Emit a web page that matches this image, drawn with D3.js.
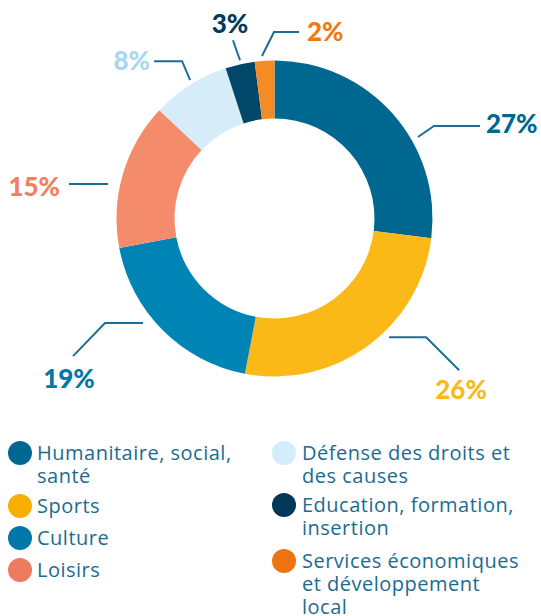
<!DOCTYPE html>
<html>
<head>
<meta charset="utf-8">
<script src="https://cdn.jsdelivr.net/npm/d3@7"></script>
<style>
  html, body { margin: 0; padding: 0; background: #fff; }
  svg { display: block; }
  .pct { font-family: Lato, "Open Sans", sans-serif; font-weight: 900; font-size: 26px; }
  .legend-text { font-family: "Open Sans", sans-serif; font-size: 20px; letter-spacing: 0.5px; fill: #1b6b90; }
  .leader { fill: none; stroke: #1c6e95; stroke-width: 2; }
</style>
</head>
<body>
<svg id="chart" width="541" height="616"></svg>
<script>
// ========= data =========
const categories = [
    "Humanitaire, social, santé",
    "Sports",
    "Culture",
    "Loisirs",
    "Défense des droits et des causes",
    "Education, formation, insertion",
    "Services économiques et développement local"
];
const values = [27, 26, 19, 15, 8, 3, 2];
const sliceColors = ["#006890", "#fbb917", "#0084b5", "#f48c6c", "#d6ecf9", "#00476a", "#f48b24"];
const labelColors = ["#006890", "#fbb917", "#0078aa", "#f08060", "#a8d8f0", "#003a5c", "#f07a10"];
const legendColors = ["#006890", "#f8ae00", "#0077a8", "#ee7a60", "#d4ecfb", "#00385a", "#ee7411"];

// legend lines (wrapped as in the original)
const legendLines = [
    ["Humanitaire, social,", "santé"],
    ["Sports"],
    ["Culture"],
    ["Loisirs"],
    ["Défense des droits et", "des causes"],
    ["Education, formation,", "insertion"],
    ["Services économiques", "et développement", "local"]
];

// ========= layout =========
const svg = d3.select("#chart");
const cx = 274.5, cy = 218.5;
const outerR = 158, innerR = 100;

const g = svg.append("g").attr("transform", `translate(${cx},${cy})`);

const pie = d3.pie().sort(null).value(d => d);
const arcs = pie(values);
const arc = d3.arc().innerRadius(innerR).outerRadius(outerR);

g.selectAll(".slice")
    .data(arcs)
    .join("path")
    .attr("class", "slice")
    .attr("d", arc)
    .attr("fill", (d, i) => sliceColors[i]);

// leader line placement: angle (deg, clockwise from top), start radius,
// elbow offset, horizontal run, and label anchor relative to line end
const leaders = [
    { a: 60.4, r: 165, elbow: [16, -11], run: 46, tx: 6, ty: -3, anchor: "start" },
    { a: 136, r: 165, elbow: [37, 0], run: 0, diag: [33, 33], tx: 2, ty: 19, anchor: "middle" },
    { a: 231.5, r: 168, elbow: [-38, 0], run: 0, diag: [-32, 33], tx: -4, ty: 22, anchor: "middle" },
    { a: 281.7, r: 170, elbow: [-39, 0], run: 0, tx: -9, ty: 2, anchor: "end" },
    { a: 328.6, r: 162, elbow: [-8, -19], run: -28, tx: -4, ty: -1, anchor: "end" },
    { a: 347.7, r: 162, elbow: [-7, -20], run: 0, tx: -3, ty: -17, anchor: "middle" },
    { a: 355.6, r: 163, elbow: [12, -24], run: 25, tx: 8, ty: -1, anchor: "start" }
];

const labels = g.append("g");

arcs.forEach((d, i) => {
    const L = leaders[i];
    const p0 = d3.pointRadial(L.a * Math.PI / 180, L.r);
    const p1 = [p0[0] + L.elbow[0], p0[1] + L.elbow[1]];
    const p2 = [p1[0] + L.run, p1[1]];
    const pts = [p0, p1, p2];
    let end = p2;
    if (L.diag) {
        end = [p2[0] + L.diag[0], p2[1] + L.diag[1]];
        pts.push(end);
    }
    labels.append("path")
        .attr("class", "leader")
        .attr("d", d3.line()(pts));

    labels.append("text")
        .attr("class", "pct")
        .attr("x", end[0] + L.tx)
        .attr("y", end[1] + L.ty)
        .attr("text-anchor", L.anchor)
        .attr("dominant-baseline", "central")
        .attr("fill", labelColors[i])
        .text(`${values[i]}%`);
});

// ========= legend =========
const legendCols = [
    { x: 20, tx: 17, rows: [0, 1, 2, 3], ys: [453, 506, 538, 570] },
    { x: 284, tx: 18, rows: [4, 5, 6], ys: [453, 505, 561] }
];
const lineH = 23;

legendCols.forEach(col => {
    col.rows.forEach((idx, k) => {
        const y = col.ys[k];
        const item = svg.append("g").attr("transform", `translate(${col.x},${y})`);
        item.append("circle")
            .attr("r", 12)
            .attr("fill", legendColors[idx]);
        const t = item.append("text")
            .attr("class", "legend-text")
            .attr("x", col.tx)
            .attr("y", 7);
        legendLines[idx].forEach((line, j) => {
            t.append("tspan")
                .attr("x", col.tx)
                .attr("dy", j === 0 ? 0 : lineH)
                .text(line);
        });
    });
});
</script>
</body>
</html>
